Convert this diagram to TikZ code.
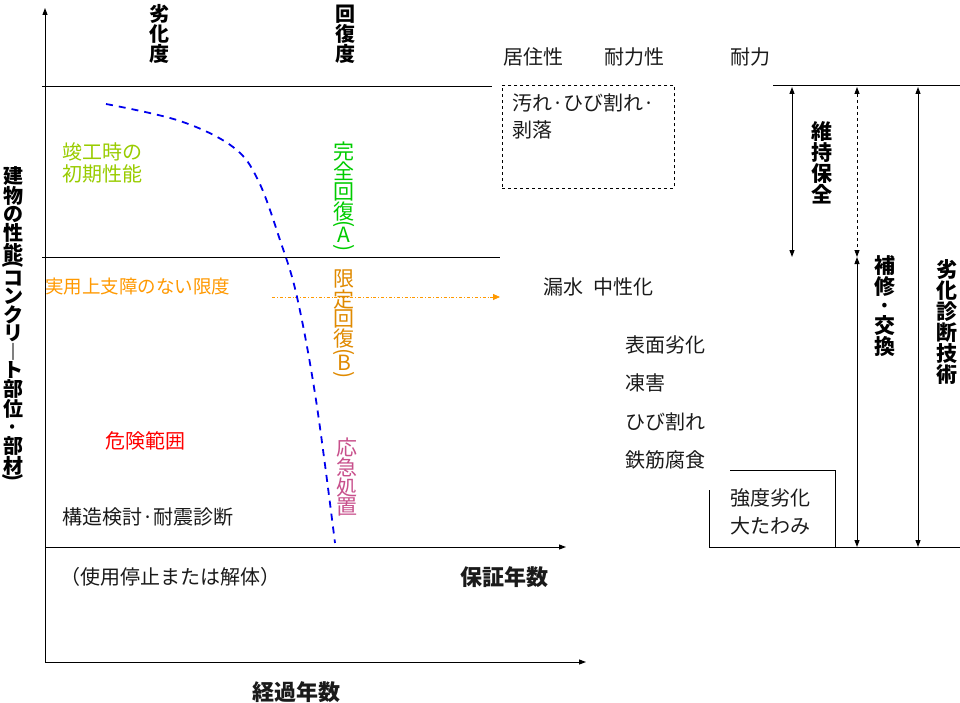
\documentclass[tikz,border=0pt]{standalone}
\usepackage{fontspec}
\usepackage{graphicx}
\setmainfont{Noto Sans CJK JP}
\usetikzlibrary{arrows.meta}
\definecolor{dgcurve}  {HTML}{0000EE}
\definecolor{dgleaf}   {HTML}{99CC00}
\definecolor{dggreen}  {HTML}{00CC00}
\definecolor{dgamber}  {HTML}{E08A00}
\definecolor{dgorange} {HTML}{FF9900}
\definecolor{dgred}    {HTML}{FF0000}
\definecolor{dgpink}   {HTML}{C8508C}
\definecolor{dgink}    {HTML}{1A1A1A}
\newcommand{\dglp}{\rotatebox[origin=c]{-90}{(}}
\newcommand{\dgrp}{\rotatebox[origin=c]{-90}{)}}
\tikzset{
  dgline/.style={draw=black, line width=1pt},
  dgarrow/.style={dgline, -{Triangle[length=7pt,width=5pt]}},
  dgboth/.style={dgline, {Triangle[length=7pt,width=5pt]}-{Triangle[length=7pt,width=5pt]}},
  dgtext/.style={font=\fontsize{20}{22}\selectfont, text=dgink, inner sep=0pt, anchor=west},
  dgvert/.style={font=\fontsize{21}{19.3}\selectfont, inner sep=0pt, align=center},
  dgbold/.style={font=\bfseries\fontsize{21}{19.5}\selectfont},
  dgtitle/.style={dgtext, font=\bfseries\fontsize{22}{24}\selectfont},
}

\begin{document}
\begin{tikzpicture}[x=1pt,y=-1pt]
  \useasboundingbox[fill=white] (0,0) rectangle (960,703);
  % axes
  \coordinate (orig) at (45,662);
  \coordinate (ytop) at (45,8);
  \coordinate (xend) at (586,662);
  \coordinate (gl)   at (45,547);
  \coordinate (gr)   at (566,547);
  \draw[dgarrow] (orig) -- (ytop);
  \draw[dgarrow] (orig) -- (xend);
  \draw[dgarrow] (gl) -- (gr);
  % levels
  \coordinate (topl) at (42,87);  \coordinate (topr) at (492,87);
  \coordinate (limL) at (42,257); \coordinate (limR) at (500,257);
  \draw[dgline] (topl) -- (topr);
  \draw[dgline] (limL) -- (limR);
  \coordinate (usel) at (272,297); \coordinate (user) at (500,297);
  \draw[draw=dgorange, line width=0.8pt, dash dot,
        -{Triangle[length=7pt,width=6pt]}] (usel) -- (user);
  % deterioration curve
  \draw[dgcurve, line width=1.8pt, dash pattern=on 7pt off 6pt]
    plot[smooth, tension=0.6] coordinates {(106,104) (180,121) (233,147)
      (258,180) (280,240) (297,297) (316,400) (335,543)};
  % upper box
  \node[draw, dashed, line width=0.8pt, minimum width=172pt, minimum height=103pt,
        anchor=north west, inner sep=0pt] (soil) at (502,85) {};
  \node[dgtext] (soilA) at (512,103) {汚れ·ひび割れ·};
  \node[dgtext] (soilB) at (512,130) {剥落};
  % headers
  \node[dgtext] (hLive) at (503,57) {居住性};
  \node[dgtext] (hDur)  at (604,57) {耐力性};
  \node[dgtext] (hStr)  at (730,57) {耐力};
  \node[dgvert, dgbold, font=\bfseries\fontsize{20}{18}\selectfont] (hDeg) at (159,34) {劣\\化\\度};
  \node[dgvert, dgbold, font=\bfseries\fontsize{20}{18}\selectfont] (hRec) at (345,34) {回\\復\\度};
  % right hand scale
  \coordinate (rTop) at (773,86);  \coordinate (rTopE) at (960,86);
  \coordinate (rBot) at (709,547); \coordinate (rBotE) at (960,547);
  \draw[dgline] (rTop) -- (rTopE);
  \draw[dgline] (709,490) -- (rBot) -- (rBotE);
  \draw[dgline] (730,470) -- (835,470) -- (835,547);
  \draw[dgboth] (792,87) -- (792,257);
  \draw[dgboth, dashed, line width=0.8pt] (857,87) -- (857,257);
  \draw[dgboth] (857,257) -- (857,547);
  \draw[dgboth] (918,87) -- (918,547);
  \node[dgvert, dgbold] (mKeep) at (822,163) {維\\持\\保\\全};
  \node[dgvert, dgbold] (mRep)  at (885,306) {補\\修\\·\\交\\換};
  \node[dgvert, dgbold, font=\bfseries\fontsize{21}{21}\selectfont] (mDiag) at (947,322)
    {劣\\化\\診\\断\\技\\術};
  % phenomena
  \node[dgtext] (pLeak) at (543,287) {漏水\hspace{0.5em}中性化};
  \node[dgtext] (pSurf) at (625,345) {表面劣化};
  \node[dgtext] (pFrz)  at (625,383) {凍害};
  \node[dgtext] (pCrk)  at (625,422) {ひび割れ};
  \node[dgtext] (pCor)  at (625,460) {鉄筋腐食};
  \node[dgtext] (pStr)  at (730,498) {強度劣化};
  \node[dgtext] (pDef)  at (730,526) {大たわみ};
  % left side labels
  \node[dgtext, text=dgleaf] (init1) at (62,152) {竣工時の};
  \node[dgtext, text=dgleaf] (init2) at (62,174) {初期性能};
  \node[dgtext, text=dgorange, font=\fontsize{18.5}{20}\selectfont] (lim) at (45,287)
    {実用上支障のない限度};
  \node[dgtext, text=dgred] (risk) at (105,441) {危険範囲};
  \node[dgtext] (seis) at (62,517) {構造検討·耐震診断};
  \node[dgtext] (stop) at (60,577) {（使用停止または解体）};
  \node[dgtitle] (guar) at (460,577) {保証年数};
  \node[dgtitle, anchor=center] (elap) at (296,692) {経過年数};
  % recovery levels
  \node[dgvert, text=dggreen] (recA) at (344,198)
    {完\\全\\回\\復\\[-8pt]\dglp\\[-7pt]A\\[-8pt]\dgrp};
  \node[dgvert, text=dgamber] (recB) at (344,326)
    {限\\定\\回\\復\\[-8pt]\dglp\\[-7pt]B\\[-8pt]\dgrp};
  \node[dgvert, text=dgpink]  (emrg) at (347,477) {応\\急\\処\\置};
  \node[dgvert, dgbold, font=\bfseries\fontsize{20}{18.5}\selectfont] (perf) at (13,325)
    {建\\物\\の\\性\\能\\[-8pt]\dglp\\[-4pt]コ\\ン\\ク\\リ\\︱\\ト\\部\\位\\·\\部\\材\\[-8pt]\dgrp};
\end{tikzpicture}
\end{document}
